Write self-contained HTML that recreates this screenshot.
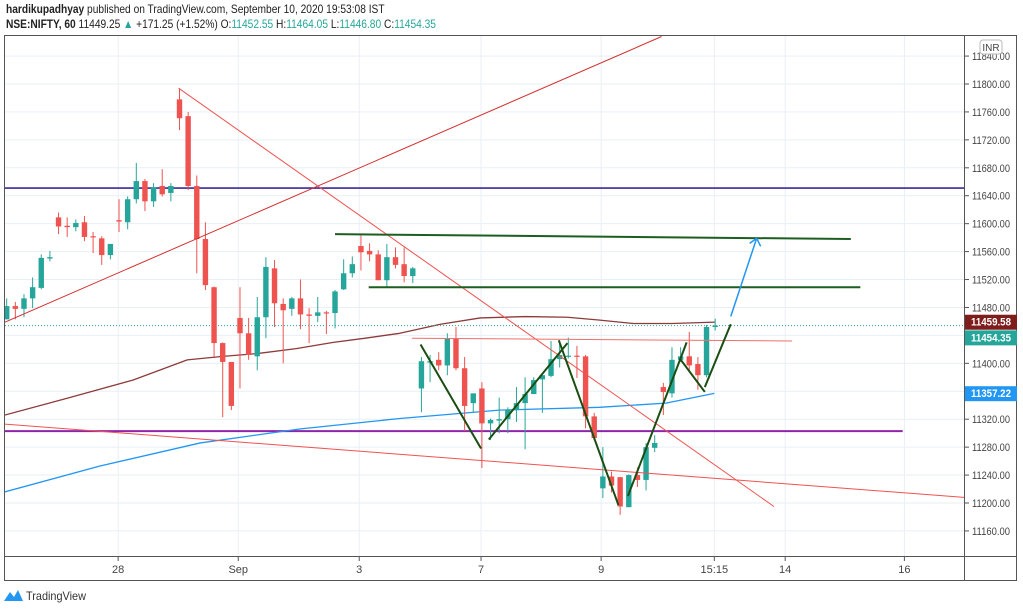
<!DOCTYPE html>
<html><head><meta charset="utf-8"><style>
body{margin:0;width:1023px;height:610px;background:#fff;overflow:hidden;font-family:"Liberation Sans",sans-serif}
#hdr{position:absolute;left:6px;top:2px;font-size:12px;color:#222;line-height:15px;transform:scaleX(0.85);transform-origin:0 0;white-space:nowrap}
#hdr b{font-weight:bold}.t{color:#26a69a}
svg{position:absolute;left:0;top:0}
</style></head><body>
<div id="hdr">
<div><b>hardikupadhyay</b> published on TradingView.com, September 10, 2020 19:53:08 IST</div>
<div><b>NSE:NIFTY, 60</b> 11449.25 <span class="t">▲</span> +171.25 (+1.52%) O:<span class="t">11452.55</span> H:<span class="t">11464.05</span> L:<span class="t">11446.80</span> C:<span class="t">11454.35</span></div>
</div>
<svg id="c" width="1023" height="610"></svg>
<script>
const candles=[[11463,11493,11463,11482],[11482,11488,11463,11478],[11478,11499,11466,11493],[11493,11523,11479,11509],[11508,11556,11506,11551],[11550,11561,11546,11552],[11609,11616,11585,11596],[11597,11609,11581,11595],[11595,11606,11589,11601],[11602,11611,11575,11581],[11582,11588,11558,11581],[11579,11582,11541,11555],[11555,11571,11549,11571],[11605,11635,11588,11603],[11602,11639,11592,11635],[11635,11687,11629,11661],[11661,11664,11618,11632],[11632,11658,11624,11652],[11654,11678,11639,11642],[11644,11658,11632,11654],[11778,11794,11734,11751],[11754,11760,11648,11654],[11654,11669,11529,11578],[11578,11602,11505,11512],[11509,11510,11409,11429],[11429,11430,11323,11402],[11402,11402,11333,11339],[11465,11509,11364,11443],[11443,11465,11405,11412],[11410,11495,11390,11466],[11466,11552,11436,11538],[11536,11548,11452,11486],[11485,11493,11400,11476],[11478,11495,11468,11493],[11493,11520,11449,11470],[11470,11479,11429,11468],[11468,11495,11459,11473],[11473,11475,11442,11472],[11472,11505,11450,11503],[11506,11549,11505,11529],[11529,11553,11523,11542],[11568,11583,11533,11559],[11561,11572,11546,11556],[11556,11562,11519,11519],[11519,11571,11508,11552],[11552,11566,11536,11541],[11542,11566,11516,11525],[11525,11538,11515,11536],[11364,11409,11330,11403],[11401,11412,11373,11403],[11405,11416,11390,11397],[11397,11443,11383,11435],[11435,11452,11390,11393],[11393,11409,11303,11339],[11343,11357,11330,11357],[11364,11373,11250,11314],[11314,11321,11290,11319],[11318,11351,11300,11320],[11320,11337,11300,11334],[11333,11366,11316,11343],[11343,11380,11277,11356],[11356,11380,11356,11376],[11377,11384,11329,11383],[11382,11432,11380,11406],[11406,11433,11394,11412],[11410,11437,11407,11411],[11411,11425,11379,11410],[11410,11412,11307,11324],[11324,11329,11290,11293],[11221,11280,11207,11238],[11238,11245,11215,11225],[11237,11237,11183,11195],[11194,11241,11194,11240],[11240,11251,11223,11233],[11233,11286,11218,11280],[11279,11297,11273,11286],[11366,11372,11326,11359],[11357,11423,11351,11405],[11405,11423,11402,11410],[11410,11445,11387,11397],[11399,11409,11362,11383],[11383,11455,11380,11452],[11452,11464,11447,11454]];
const priceTicks=[11160,11200,11240,11280,11320,11360,11400,11440,11480,11520,11560,11600,11640,11680,11720,11760,11800,11840];
const timeTickIdx=[12.9,26.8,40.8,54.9,68.8,81.9,90.1,103.9];
const timeTickLabels=["28","Sep","3","7","9","15:15","14","16"];
const ma1Idx=[-0.2,7,14.6,20.9,25,29,33.5,37.8,41.5,45.5,50.2,54.8,60,64.9,68.5,72.5,77,82];
const ma1Val=[11326,11350,11376,11405,11410,11414,11421,11430,11436,11443,11456,11465,11467,11466,11462,11457,11457,11459];
const ma2Idx=[-0.2,10.8,22.4,33.9,45.5,57,68.6,76.3,81.9];
const ma2Val=[11216,11253,11286,11306,11321,11333,11337,11343,11357];
const hLines=[[11651,-0.2,111,'#3a2a9c',1.6,'support-line-11651'],[11303,-0.2,103.7,'#8e24aa',2,'support-line-11303']];
const trendLines=[[-0.2,11459,75.8,11868,'#d32f2f',1,'rising-trendline'],[19.9,11794,88.8,11195,'#ef5350',1,'falling-trendline'],[-0.2,11313,110.8,11208,'#ef5350',1,'long-falling-trendline'],[38,11585,97.7,11578,'#1b5e20',2,'resistance-line-upper'],[41.9,11509,98.8,11509,'#1b5e20',2,'resistance-line-lower'],[46.9,11436,90.9,11432,'#ef6f6f',1,'neckline'],[47.9,11427,54.9,11278,'#1b4d12',2,'zigzag-1'],[55.8,11291,64.9,11429,'#1b4d12',2,'zigzag-2'],[63.9,11433,70.8,11197,'#1b4d12',2,'zigzag-3'],[71.9,11210,78.7,11430,'#1b4d12',2,'zigzag-4'],[77.9,11407,80.8,11359,'#1b4d12',2,'zigzag-5'],[80.8,11366,83.8,11456,'#1b4d12',2,'zigzag-6'],[83.8,11467,86.8,11579,'#2196f3',1.5,'target-arrow']];
const NS='http://www.w3.org/2000/svg';
const svg=document.getElementById('c');
const X=i=>6.7+i*8.64, Y=p=>84+(11800-p)/1.432;
function mk(t,a,parent){const e=document.createElementNS(NS,t);for(const k in a)e.setAttribute(k,a[k]);(parent||svg).appendChild(e);return e;}
const defs=mk('defs',{});const cp=mk('clipPath',{id:'pc'},defs);mk('rect',{x:5,y:36,width:959,height:520},cp);
const plot=mk('g',{'clip-path':'url(#pc)'});


priceTicks.forEach(p=>{const l=mk('line',{x1:5,x2:964,y1:Y(p),y2:Y(p),stroke:'#e9eff5'},plot);

});
timeTickIdx.forEach(i=>{const l=mk('line',{x1:X(i),x2:X(i),y1:36,y2:556,stroke:'#e9eff5'},plot);

});
hLines.forEach(h=>{const l=mk('line',{x1:X(h[1]),x2:X(h[2]),y1:Y(h[0]),y2:Y(h[0]),stroke:h[3],'stroke-width':h[4]},plot);

});
function poly(ix,vals,col,name){const pl=mk('polyline',{points:ix.map((i,k)=>X(i)+','+Y(vals[k])).join(' '),fill:'none',stroke:col,'stroke-width':1.3,'stroke-linejoin':'round'},plot);

}
poly(ma1Idx,ma1Val,'#8d3a3a','moving-average-brown');
poly(ma2Idx,ma2Val,'#2196f3','moving-average-blue');
const last=candles[candles.length-1];
const dl=mk('line',{x1:5,x2:964,y1:Y(last[3]),y2:Y(last[3]),stroke:'#26a69a','stroke-dasharray':'1 2'},plot);


candles.forEach((c,i)=>{const[o,h,l,cl]=c;const up=cl>=o;const col=up?'#26a69a':'#ef5350';const x=X(i);
const g=mk('g',{},plot);


mk('line',{x1:x,x2:x,y1:Y(h),y2:Y(l),stroke:col},g);
const t=Y(Math.max(o,cl)),b=Y(Math.min(o,cl));
mk('rect',{x:x-2.7,y:t,width:5.4,height:Math.max(1.2,b-t),fill:col},g);});
trendLines.forEach(t=>{const l=mk('line',{x1:X(t[0]),y1:Y(t[1]),x2:X(t[2]),y2:Y(t[3]),stroke:t[4],'stroke-width':t[5]},plot);

});
const a=trendLines[trendLines.length-1];const ax=X(a[2]),ay=Y(a[3]);
const ah=mk('polyline',{points:(ax-7)+','+(ay+5)+' '+ax+','+ay+' '+(ax+4)+','+(ay+8),fill:'none',stroke:'#2196f3','stroke-width':1.5},plot);


const fr=mk('rect',{x:4.5,y:35.5,width:1012,height:545,fill:'none',stroke:'#555'});


mk('line',{x1:964.5,x2:964.5,y1:36,y2:580,stroke:'#555'});
mk('line',{x1:5,x2:1017,y1:556.5,y2:556.5,stroke:'#555'});
priceTicks.forEach(p=>{const y=Y(p);mk('line',{x1:965,x2:969,y1:y,y2:y,stroke:'#555'});
const t=mk('text',{x:972,y:y+4,'font-size':11,fill:'#444',textLength:38,lengthAdjust:'spacingAndGlyphs'});t.textContent=p.toFixed(2);

});
timeTickIdx.forEach((i,k)=>{mk('line',{x1:X(i),x2:X(i),y1:557,y2:561,stroke:'#555'});
const t=mk('text',{x:X(i),y:573,'font-size':11,fill:'#444','text-anchor':'middle'});t.textContent=timeTickLabels[k];

});
const inr=mk('rect',{x:980,y:40,width:22,height:14,rx:3,fill:'#fff',stroke:'#bbb'});


const it=mk('text',{x:991,y:51,'font-size':10,fill:'#444','text-anchor':'middle'});it.textContent='INR';
[[ma1Val[ma1Val.length-1]+0.58,'#7f1d1d','11459.58','ma-brown-price-label'],[last[3]+0.35,'#26a69a','11454.35','last-price-label'],[ma2Val[ma2Val.length-1]+0.22,'#2196f3','11357.22','ma-blue-price-label']].forEach(b=>{
let y=Y(b[0]);if(b[3]==='last-price-label')y+=12;
const g=mk('g',{});


mk('rect',{x:965,y:y-7,width:52,height:15,fill:b[1]},g);
const t=mk('text',{x:971,y:y+4,'font-size':11,'font-weight':'bold',fill:'#fff',textLength:40,lengthAdjust:'spacingAndGlyphs'},g);t.textContent=b[2];});
const lg=mk('g',{});


mk('path',{d:'M4 601 L10 592 L14 597 L18 590 L23 601 Z',fill:'#2196f3'},lg);
const lt=mk('text',{x:26,y:600,'font-size':12,fill:'#333',textLength:60,lengthAdjust:'spacingAndGlyphs'},lg);lt.textContent='TradingView';
</script>
</body></html>
